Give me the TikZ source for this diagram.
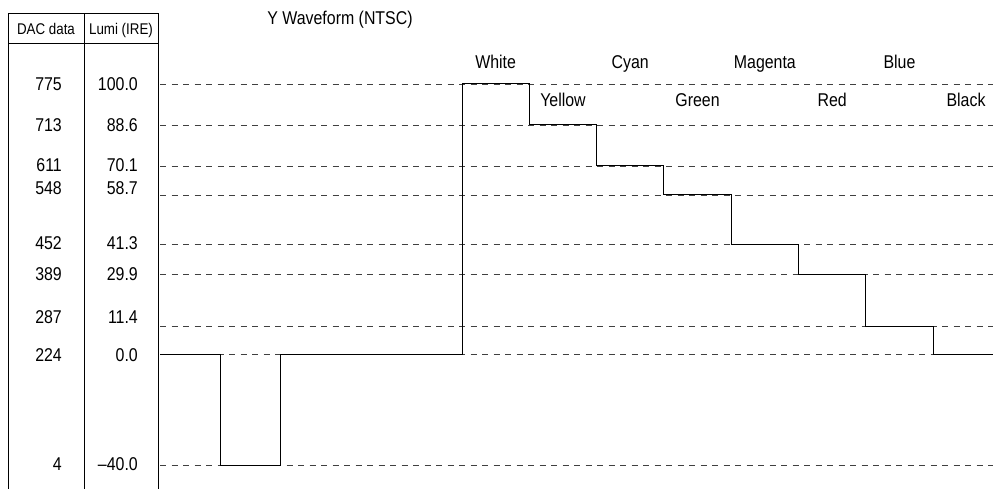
\documentclass[tikz,border=0pt]{standalone}
\usepackage{fontspec}
\setmainfont{Liberation Sans}[FakeStretch=0.86]
\begin{document}
\begin{tikzpicture}[x=1pt,y=-1pt,
  frameline/.style={line width=1pt,black},
  levelline/.style={line width=0.8pt,black!75,dash pattern=on 6pt off 5.5pt},
  wave/.style={line width=1pt,black,line join=miter},
  lbl/.style={inner sep=0pt,font=\fontsize{18.5}{20}\selectfont,text height=13.2pt,text depth=0pt},
  hdr/.style={inner sep=0pt,font=\fontsize{15.5}{17}\selectfont,text height=11pt,text depth=0pt}]
\useasboundingbox (0,0) rectangle (993,489);

% table frame
\draw[frameline] (8,489) |- (158,14) -- (158,489);
\draw[frameline] (84,14) -- (84,489);
\draw[frameline] (8,44) -- (158,44);
\node[hdr] (hdac) at (46,29) {DAC data};
\node[hdr] (hlum) at (121,29) {Lumi (IRE)};

% table rows: text centre / DAC value / luminance
\foreach \ty/\dac/\lum [count=\i] in {84/775/100.0, 125/713/88.6, 165/611/70.1,
    188/548/58.7, 243/452/41.3, 274/389/29.9, 317/287/11.4, 355/224/0.0, 464/4/–40.0}{
  \node[lbl,anchor=east] (dac\i) at (62,\ty) {\dac};
  \node[lbl,anchor=east] (lum\i) at (138,\ty) {\lum};
}

% dashed reference levels
\foreach \ly [count=\i] in {84,125,166,195,244,274,326,354,465}{
  \coordinate (ls\i) at (160,\ly);
  \coordinate (le\i) at (993,\ly);
  \draw[levelline] (ls\i) -- (le\i);
}

\node[lbl] (title) at (340,18) {Y Waveform (NTSC)};

% colour bar step edges
\foreach \k in {0,...,8}{ \coordinate (s\k) at ({462+67.3*\k},0); }

% bar names
\foreach \k/\nm in {0/White,2/Cyan,4/Magenta,6/Blue}{
  \node[lbl] (bar\k) at ({462+67.3*(\k+0.5)},62) {\nm};
}
\foreach \k/\nm in {1/Yellow,3/Green,5/Red}{
  \node[lbl] (bar\k) at ({462+67.3*(\k+0.5)},100) {\nm};
}
\node[lbl] (bar7) at (966,100) {Black};

% waveform
\coordinate (w0) at (160,354);
\coordinate (w1) at (220,354);
\coordinate (w2) at (220,465);
\coordinate (w3) at (280,465);
\coordinate (w4) at (280,354);
\draw[wave] (w0) -- (w1) -- (w2) -- (w3) -- (w4)
  -- (s0 |- ls8) -- (s0 |- ls1) -- (s1 |- ls1) -- (s1 |- ls2) -- (s2 |- ls2)
  -- (s2 |- ls3) -- (s3 |- ls3) -- (s3 |- ls4) -- (s4 |- ls4) -- (s4 |- ls5)
  -- (s5 |- ls5) -- (s5 |- ls6) -- (s6 |- ls6) -- (s6 |- ls7) -- (s7 |- ls7)
  -- (s7 |- ls8) -- (le8);
\end{tikzpicture}
\end{document}
